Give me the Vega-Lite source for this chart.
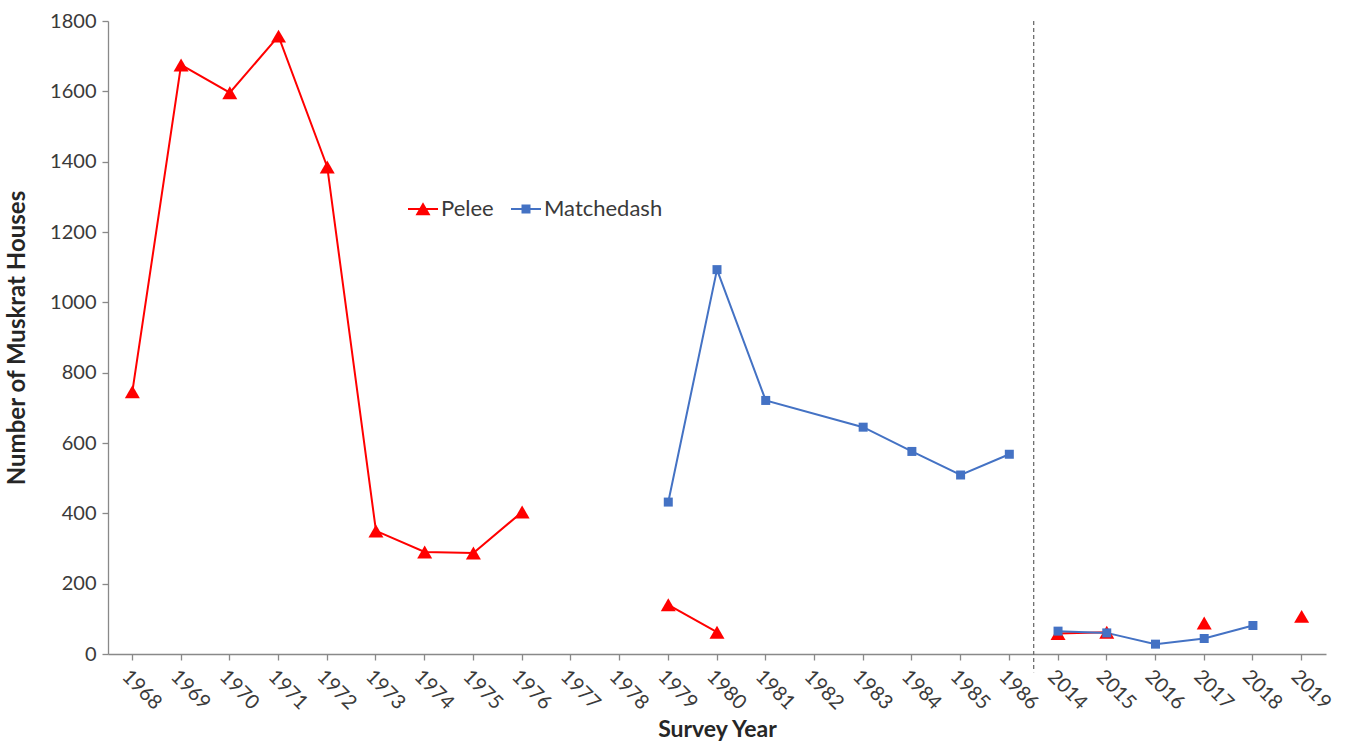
{
  "$schema": "https://vega.github.io/schema/vega-lite/v6.json",
  "width": 1218,
  "height": 633,
  "autosize": {"type": "none"},
  "padding": {"left": 108, "top": 21, "right": 24, "bottom": 90},
  "background": "white",
  "config": {
    "font": "Lato",
    "view": {"stroke": null},
    "axis": {"grid": false, "domainColor": "#898989", "tickColor": "#898989", "labelColor": "#3a3a3a", "titleColor": "#262626", "labelFont": "Lato", "titleFont": "Lato"}
  },
  "data": {
    "values": [
      {"year": "1968", "series": "Pelee", "seg": "P1", "value": 746},
      {"year": "1969", "series": "Pelee", "seg": "P1", "value": 1675},
      {"year": "1970", "series": "Pelee", "seg": "P1", "value": 1596},
      {"year": "1971", "series": "Pelee", "seg": "P1", "value": 1757},
      {"year": "1972", "series": "Pelee", "seg": "P1", "value": 1385},
      {"year": "1973", "series": "Pelee", "seg": "P1", "value": 350},
      {"year": "1974", "series": "Pelee", "seg": "P1", "value": 290},
      {"year": "1975", "series": "Pelee", "seg": "P1", "value": 287},
      {"year": "1976", "series": "Pelee", "seg": "P1", "value": 404},
      {"year": "1979", "series": "Pelee", "seg": "P2", "value": 140},
      {"year": "1980", "series": "Pelee", "seg": "P2", "value": 62},
      {"year": "2014", "series": "Pelee", "seg": "P3", "value": 58},
      {"year": "2015", "series": "Pelee", "seg": "P3", "value": 62},
      {"year": "2017", "series": "Pelee", "seg": "P4", "value": 88},
      {"year": "2019", "series": "Pelee", "seg": "P5", "value": 107},
      {"year": "1979", "series": "Matchedash", "seg": "M1", "value": 432},
      {"year": "1980", "series": "Matchedash", "seg": "M1", "value": 1093},
      {"year": "1981", "series": "Matchedash", "seg": "M1", "value": 721},
      {"year": "1983", "series": "Matchedash", "seg": "M1", "value": 645},
      {"year": "1984", "series": "Matchedash", "seg": "M1", "value": 576},
      {"year": "1985", "series": "Matchedash", "seg": "M1", "value": 509},
      {"year": "1986", "series": "Matchedash", "seg": "M1", "value": 568},
      {"year": "2014", "series": "Matchedash", "seg": "M2", "value": 65},
      {"year": "2015", "series": "Matchedash", "seg": "M2", "value": 60},
      {"year": "2016", "series": "Matchedash", "seg": "M2", "value": 28},
      {"year": "2017", "series": "Matchedash", "seg": "M2", "value": 44},
      {"year": "2018", "series": "Matchedash", "seg": "M2", "value": 81}
    ]
  },
  "encoding": {
    "x": {
      "field": "year",
      "type": "ordinal",
      "title": "Survey Year",
      "scale": {"type": "band", "paddingInner": 0, "paddingOuter": 0, "domain": ["1968","1969","1970","1971","1972","1973","1974","1975","1976","1977","1978","1979","1980","1981","1982","1983","1984","1985","1986","2014","2015","2016","2017","2018","2019"]},
      "axis": {"labelAngle": 45, "labelFontSize": 20, "labelPadding": 6, "labelDx": 4, "labelDy": 1, "tickSize": 6, "titleFontSize": 23, "titleFontWeight": "bold", "titlePadding": 6, "domainWidth": 1.3, "tickWidth": 1.3}
    },
    "y": {
      "field": "value",
      "type": "quantitative",
      "title": "Number of Muskrat Houses",
      "scale": {"domain": [0, 1800], "nice": false},
      "axis": {"values": [0,200,400,600,800,1000,1200,1400,1600,1800], "format": "d", "labelFontSize": 20, "labelPadding": 6, "tickSize": 6, "titleFontSize": 24, "titleFontWeight": "bold", "titlePadding": 20, "domainWidth": 1.3, "tickWidth": 1.3}
    }
  },
  "layer": [
    {
      "data": {"values": [{"year": "2014", "top": 1800, "bottom": -52}]},
      "mark": {"type": "rule", "color": "#6e6e6e", "strokeDash": [4, 3], "strokeWidth": 1.3},
      "encoding": {
        "x": {"field": "year", "type": "ordinal", "bandPosition": 0},
        "y": {"field": "top", "type": "quantitative"},
        "y2": {"field": "bottom"}
      }
    },
    {
      "mark": {"type": "line", "strokeWidth": 2},
      "encoding": {
        "color": {"field": "series", "type": "nominal", "scale": {"domain": ["Pelee", "Matchedash"], "range": ["#ff0000", "#4472c4"]}, "legend": null},
        "detail": {"field": "seg"}
      }
    },
    {
      "mark": {"type": "point", "filled": true, "opacity": 1},
      "encoding": {
        "color": {"field": "series", "type": "nominal", "scale": {"domain": ["Pelee", "Matchedash"], "range": ["#ff0000", "#4472c4"]}, "legend": null},
        "shape": {"field": "series", "type": "nominal", "scale": {"domain": ["Pelee", "Matchedash"], "range": ["triangle-up", "square"]}, "legend": null},
        "size": {"field": "series", "type": "nominal", "scale": {"domain": ["Pelee", "Matchedash"], "range": [225, 81]}, "legend": null}
      }
    },
    {
      "transform": [{"filter": "datum.value < 0"}],
      "mark": {"type": "point", "filled": true, "opacity": 1},
      "encoding": {
        "color": {"field": "series", "type": "nominal", "scale": {"domain": ["Pelee", "Matchedash"], "range": ["#ff0000", "#4472c4"]}, "title": null},
        "shape": {
          "field": "series", "type": "nominal", "title": null,
          "scale": {"domain": ["Pelee", "Matchedash"], "range": ["M-1,-0.07H1V0.07H-1Z M0,-0.45L0.5,0.42L-0.5,0.42Z", "M-1,-0.07H1V0.07H-1Z M-0.3,-0.3H0.3V0.3H-0.3Z"]},
          "legend": {"orient": "none", "legendX": 300, "legendY": 173, "direction": "horizontal", "symbolSize": 900, "symbolStrokeWidth": 0, "labelFontSize": 22, "labelColor": "#3a3a3a", "labelOffset": 3, "columnPadding": 17, "padding": 0}
        }
      }
    }
  ],
  "resolve": {"scale": {"color": "independent", "shape": "independent"}}
}
